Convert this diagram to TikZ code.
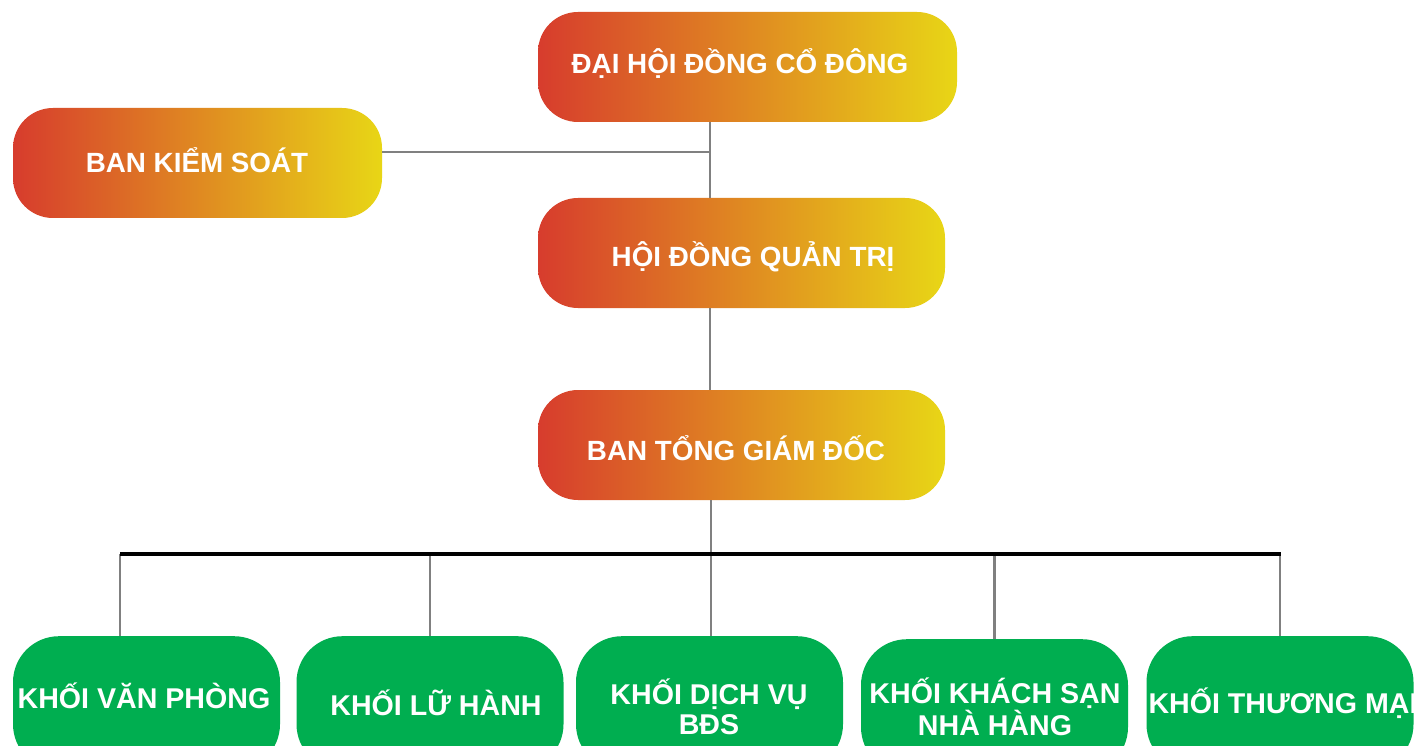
\documentclass[tikz,border=0pt]{standalone}
\usepackage{fontspec}
\setmainfont{Liberation Sans}
\usetikzlibrary{calc}
\definecolor{gradL}{RGB}{215,60,45}
\definecolor{gradM}{RGB}{223,126,46}
\definecolor{gradR}{RGB}{232,214,22}
\definecolor{boxgreen}{RGB}{0,174,80}
\definecolor{conngray}{RGB}{128,128,128}
\tikzset{
  orangebox/.style={rectangle, rounded corners=40pt, left color=gradL, middle color=gradM, right color=gradR, shading angle=90, draw=none, minimum width=#1, minimum height=110pt, inner sep=0pt},
  greenbox/.style={rectangle, rounded corners=46pt, fill=boxgreen, draw=none, minimum width=267pt, minimum height=134pt, inner sep=0pt, anchor=north},
  toptext/.style={text=white, font=\bfseries\fontsize{27.8}{31}\selectfont, inner sep=0pt},
  bottext/.style={text=white, font=\bfseries\fontsize{28.6}{30}\selectfont, inner sep=0pt, align=center},
  conn/.style={draw=conngray, line width=2.6pt},
  bus/.style={draw=black, line width=3.2pt}
}
\begin{document}
\begin{tikzpicture}[x=1pt,y=-1pt]
\useasboundingbox (0,0) rectangle (1414,746);
\clip (0,0) rectangle (1414,746);
\fill[white] (0,0) rectangle (1414,746);

% coordinates for connector routing
\coordinate (trunk) at (710,0);
\coordinate (j1) at (710,152);
\coordinate (busL) at (120,554);
\coordinate (busR) at (1281,554);
\coordinate (busM) at (711,554);

% boxes
\node[orangebox=419pt] (dh) at (747.5,67) {};
\node[orangebox=369pt] (bks) at (197.5,163) {};
\node[orangebox=407pt] (hd) at (741.5,253) {};
\node[orangebox=407pt] (tgd) at (741.5,445) {};

\node[greenbox] (k1) at (146.5,636) {};
\node[greenbox] (k2) at (430,636) {};
\node[greenbox] (k3) at (709.5,636) {};
\node[greenbox] (k4) at (994.5,639) {};
\node[greenbox] (k5) at (1280,636) {};

% connectors
\draw[conn] (dh.south -| trunk) -- (hd.north -| trunk);
\draw[conn] (bks.east |- j1) -- (j1);
\draw[conn] (hd.south -| trunk) -- (tgd.north -| trunk);
\draw[conn] (tgd.south -| busM) -- (k3.north -| busM);
\draw[conn] (busL |- busM) -- (k1.north -| busL);
\draw[conn] (k2.north |- busM) -- (k2.north);
\draw[conn] (k4.north |- busM) -- (k4.north);
\draw[conn] (k5.north |- busM) -- (k5.north);
\draw[bus] (busL) -- (busR);

% texts
\node[toptext] (tdh) at (740,64) {ĐẠI HỘI ĐỒNG CỔ ĐÔNG};
\node[toptext] (tbks) at (197,160) {BAN KIỂM SOÁT};
\node[toptext] (thd) at (753,257) {HỘI ĐỒNG QUẢN TRỊ};
\node[toptext] (ttgd) at (736,448) {BAN TỔNG GIÁM ĐỐC};

\node[bottext] (tk1) at (144,696) {KHỐI VĂN PHÒNG};
\node[bottext] (tk2) at (436,703) {KHỐI LỮ HÀNH};
\node[bottext] (tk3) at (709,707) {KHỐI DỊCH VỤ\\BĐS};
\node[bottext] (tk4) at (995,707) {KHỐI KHÁCH SẠN\\NHÀ HÀNG};
\node[bottext] (tk5) at (1283,703) {KHỐI THƯƠNG MẠI};
\end{tikzpicture}
\end{document}
